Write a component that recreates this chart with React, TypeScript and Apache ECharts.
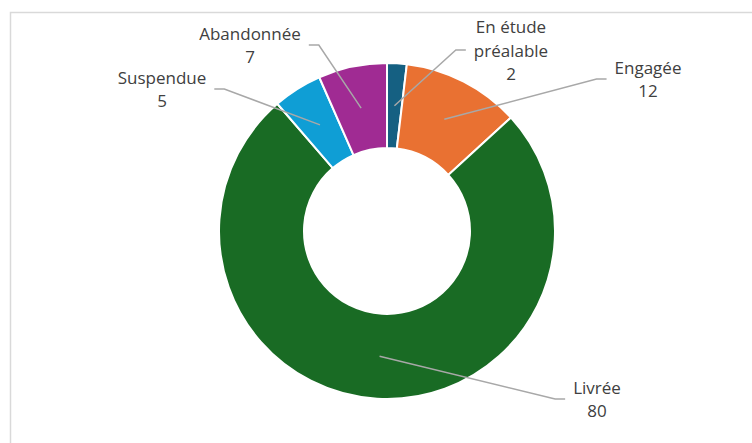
import React, { useEffect, useRef } from "react";
import * as echarts from "echarts";

const categories = ["En étude préalable", "Engagée", "Livrée", "Suspendue", "Abandonnée"];
const labelTexts = ["En étude\npréalable", "Engagée", "Livrée", "Suspendue", "Abandonnée"];
const values = [2, 12, 80, 5, 7];
const colors = ["#156082", "#E97132", "#196B24", "#0F9ED5", "#A02B93"];

// label block centres and which side the leader line attaches to
const labelCenters: [number, number][] = [
  [511, 50],
  [648, 79],
  [597, 399],
  [162, 89],
  [250, 45],
];
const lineSide = [-1, -1, -1, 1, 1]; // -1: line enters from the left of the label, 1: from the right

const CX = 387;
const CY = 231;
const R_IN = 83;
const R_OUT = 168;
const FONT_SIZE = 17;
const FONT_FAMILY = "Open Sans";

export default function App() {
  const ref = useRef<HTMLDivElement>(null);

  useEffect(() => {
    if (!ref.current) return;
    const chart = echarts.init(ref.current, null, { renderer: "svg" });
    const total = values.reduce((a, b) => a + b, 0);
    const midAngles: number[] = [];
    let acc = 0;
    values.forEach((v) => {
      midAngles.push(((acc + v / 2) / total) * Math.PI * 2);
      acc += v;
    });
    const rMid = (R_IN + R_OUT) / 2;

    const ctx = document.createElement("canvas").getContext("2d")!;
    ctx.font = `${FONT_SIZE}px "${FONT_FAMILY}"`;
    const labelWidths = labelTexts.map((t, i) =>
      Math.max(...(t + "\n" + values[i]).split("\n").map((s) => ctx.measureText(s).width))
    );

    chart.setOption({
      animation: false,
      backgroundColor: "#ffffff",
      graphic: [
        {
          type: "rect",
          shape: { x: 10.5, y: 12.5, width: 780, height: 480 },
          style: { fill: "none", stroke: "#d9d9d9", lineWidth: 1.5 },
          silent: true,
        },
      ],
      series: [
        {
          type: "pie",
          center: [CX, CY],
          radius: [R_IN, R_OUT],
          startAngle: 90,
          clockwise: true,
          avoidLabelOverlap: false,
          z: 2,
          itemStyle: { borderColor: "#ffffff", borderWidth: 2 },
          label: {
            show: true,
            position: "outside",
            formatter: (p: any) => labelTexts[p.dataIndex] + "\n" + p.value,
            fontFamily: FONT_FAMILY,
            fontSize: FONT_SIZE,
            lineHeight: 23.5,
            color: "#404040",
            align: "center",
          },
          labelLine: { show: false },
          labelLayout: (params: any) => {
            const [lx, ly] = labelCenters[params.dataIndex];
            return { x: lx, y: ly, align: "center", verticalAlign: "middle" };
          },
          data: categories.map((name, i) => ({
            name,
            value: values[i],
            itemStyle: { color: colors[i] },
          })),
        },
        {
          type: "custom",
          coordinateSystem: "none",
          silent: true,
          z: 10,
          data: values.map((v, i) => [i, v]),
          renderItem: (params: any) => {
            const i = params.dataIndex;
            const [lx, ly] = labelCenters[i];
            const side = lineSide[i];
            const endX = lx + side * (labelWidths[i] / 2 + 8);
            const elbowX = endX + side * 10;
            const a = midAngles[i];
            const sx = CX + rMid * Math.sin(a);
            const sy = CY - rMid * Math.cos(a);
            return {
              type: "polyline",
              shape: {
                points: [
                  [sx, sy],
                  [elbowX, ly],
                  [endX, ly],
                ],
              },
              style: { fill: null, stroke: "#a8a8a8", lineWidth: 1.5 },
            };
          },
        },
      ],
    });
    return () => chart.dispose();
  }, []);

  return (
    <div
      ref={ref}
      style={{ position: "absolute", left: 0, top: 0, width: 752, height: 443 }}
    />
  );
}
